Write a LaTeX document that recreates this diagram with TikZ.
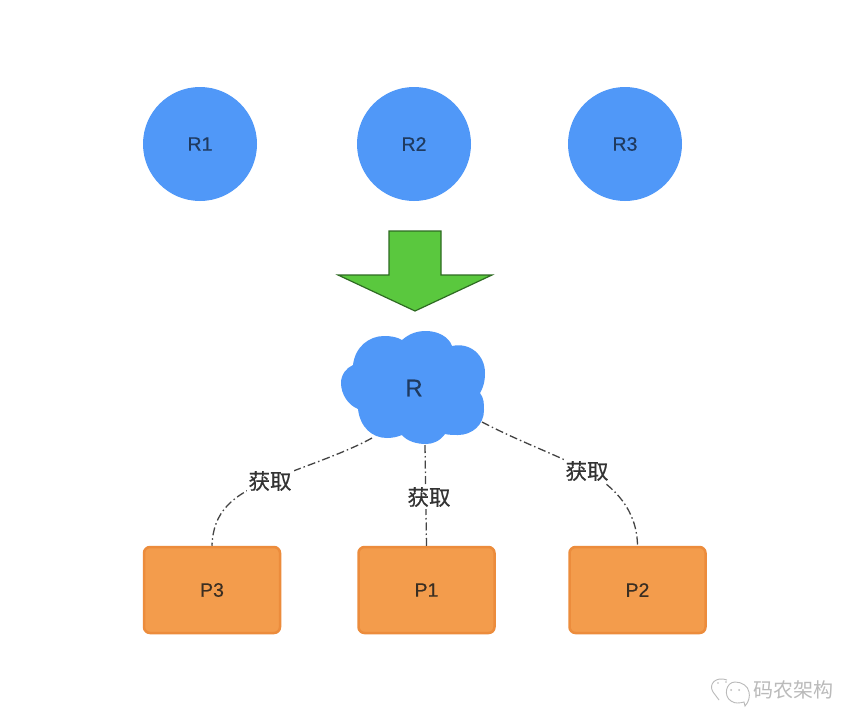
\documentclass[tikz,border=0pt]{standalone}
\usepackage{fontspec}
\setmainfont{Liberation Sans}[FakeBold=0.35]
\newfontfamily\cjk{Noto Sans CJK SC}[FakeBold=0.5]
\newfontfamily\cjklight{Noto Sans CJK SC}
\definecolor{blueR}{HTML}{5098F8}
\definecolor{textR}{HTML}{1F3A5F}
\definecolor{greenA}{HTML}{5AC83E}
\definecolor{greenB}{HTML}{2E6B22}
\definecolor{orF}{HTML}{F39C4C}
\definecolor{orD}{HTML}{EC8C3C}
\definecolor{txtP}{HTML}{3A2E22}
\definecolor{lnk}{HTML}{444444}
\definecolor{wm}{HTML}{BABABA}
\tikzset{
  res/.style={circle,fill=blueR,minimum size=114pt,inner sep=0pt,text=textR,font=\fontsize{19.5}{22}\selectfont},
  proc/.style={rectangle,rounded corners=6pt,draw=orD,line width=2.5pt,fill=orF,minimum width=136pt,minimum height=86pt,inner sep=0pt,text=txtP,font=\fontsize{19.5}{22}\selectfont},
  link/.style={draw=lnk,line width=1.3pt,dash pattern=on 8pt off 3pt on 1.5pt off 3pt},
  lab/.style={fill=white,inner sep=2pt,text=black!80,font=\cjk\fontsize{21.5}{24}\selectfont},
  wmline/.style={draw=wm,line width=0.9pt,fill=white}
}
\begin{document}
\begin{tikzpicture}[x=1pt,y=-1pt]
\useasboundingbox (0,0) rectangle (862,728);
\fill[white] (0,0) rectangle (862,728);
% resources
\node[res] (R1) at (200,144) {R1};
\node[res] (R2) at (414,144) {R2};
\node[res] (R3) at (625,144) {R3};
% arrow
\draw[fill=greenA,draw=greenB,line width=1.2pt,line join=miter] (389,231) -- (441,231) -- (441,275) -- (492,275) -- (415,311) -- (338,275) -- (389,275) -- cycle;
% cloud
\fill[blueR] (402,340) .. controls (410,333) and (418,331) .. (426,331)
  .. controls (438,331) and (449,337) .. (452,346)
  .. controls (470,342) and (485,355) .. (485,373)
  .. controls (485,382) and (483,388) .. (480,393)
  .. controls (484,398) and (484,404) .. (484,410)
  .. controls (484,425) and (472,435) .. (458,435)
  .. controls (454,435) and (449,435) .. (445,434)
  .. controls (440,441) and (433,444) .. (426,444)
  .. controls (416,444) and (407,441) .. (402,435)
  .. controls (397,437) and (392,438) .. (387,438)
  .. controls (372,438) and (360,427) .. (358,409)
  .. controls (348,405) and (341,394) .. (341,383)
  .. controls (341,375) and (346,368) .. (353,365)
  .. controls (355,347) and (369,336) .. (384,336)
  .. controls (391,336) and (397,337) .. (402,340) -- cycle;
\node[text=textR,font=\fontsize{24}{28}\selectfont,inner sep=0pt] (R) at (414,388) {R};
% processes
\node[proc] (P3) at (212,590) {P3};
\node[proc] (P1) at (426.5,590) {P1};
\node[proc] (P2) at (637.5,590) {P2};
% connector ends on the cloud
\coordinate (RL) at (372,438);
\coordinate (RM) at (425,445);
\coordinate (RD) at (482,422);
% connectors
\draw[link] (RL) .. controls (345,453) and (305,466) .. (270,480) .. controls (232,495) and (213,512) .. (P3.north);
\draw[link] (RM) -- (P1.north);
\draw[link] (RD) .. controls (520,442) and (560,456) .. (587,471) .. controls (615,487) and (637,510) .. (P2.north);
% labels
\node[lab] (L3) at (270,481) {获取};
\node[lab] (L1) at (429,497) {获取};
\node[lab] (L2) at (587,471) {获取};
% watermark
\draw[wmline] (727,680) .. controls (716,676) and (708,684) .. (713,692) -- (719,700);
\draw[wmline] (735,682) .. controls (726,682) and (723,696) .. (731,701) .. controls (735,704) and (740,703) .. (744,702) -- (745,706) .. controls (749,702) and (750,696) .. (749,692) .. controls (748,686) and (742,682) .. (735,682) -- cycle;
\fill[wm] (731,690) circle[radius=1] (739,690) circle[radius=1] (718,683) circle[radius=0.9] (726,682) circle[radius=0.9];
\node[text=wm,font=\cjklight\fontsize{20}{22}\selectfont,inner sep=0pt] (W) at (793,690) {码农架构};
\end{tikzpicture}
\end{document}
